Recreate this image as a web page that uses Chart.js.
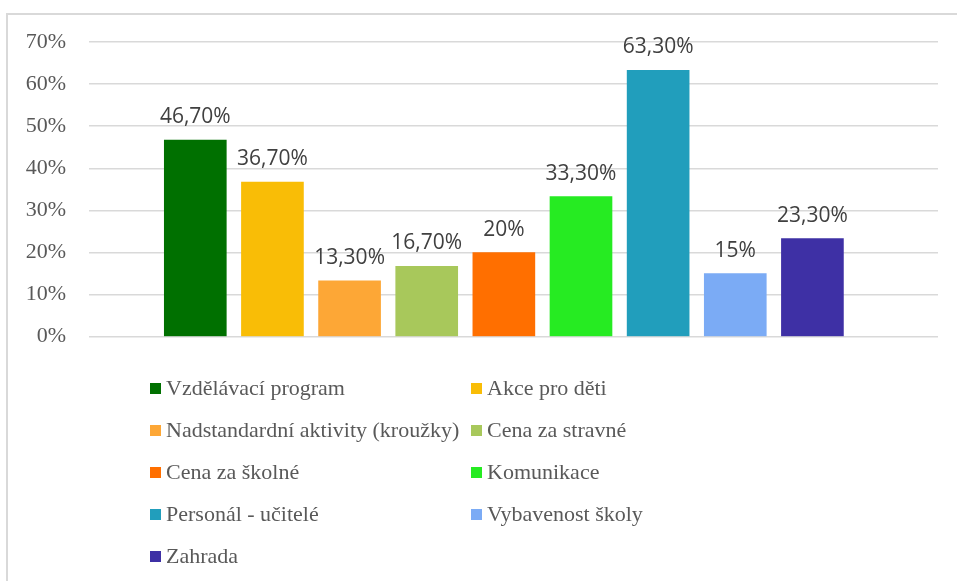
<!DOCTYPE html>
<html>
<head>
<meta charset="utf-8">
<script src="https://cdn.jsdelivr.net/npm/chart.js@4/dist/chart.umd.min.js"></script>
<style>
  html, body { margin: 0; padding: 0; background: #ffffff; }
  body { width: 957px; height: 581px; position: relative; overflow: hidden; }
  #frame { position: absolute; left: 6px; top: 13px; width: 1000px; height: 1000px;
           border-left: 2px solid #d9d9d9; border-top: 2px solid #d9d9d9; box-sizing: border-box; }
  #chart { position: absolute; left: 0; top: 0; }
  #legend { position: absolute; left: 150px; top: 367px; display: grid;
            grid-template-columns: 321px auto; font-family: "Liberation Serif", "Times New Roman", serif;
            font-size: 22px; color: #595959; }
  .item { display: flex; align-items: center; height: 42px; line-height: 42px; white-space: nowrap; }
  .box { width: 11px; height: 11px; margin-right: 5px; flex: none; }
</style>
</head>
<body>
<div id="frame"></div>
<canvas id="chart" width="957" height="581"></canvas>
<div id="legend"></div>
<script>
// ---- data ----
const categories = [
  "Vzdělávací program",
  "Akce pro děti",
  "Nadstandardní aktivity (kroužky)",
  "Cena za stravné",
  "Cena za školné",
  "Komunikace",
  "Personál - učitelé",
  "Vybavenost školy",
  "Zahrada"
];
const values = [46.7, 36.7, 13.3, 16.7, 20, 33.3, 63.3, 15, 23.3];
const colors = ["#007000", "#F9BD06", "#FDA736", "#A8C85B", "#FF6F00", "#26EB22", "#219EBC", "#7BABF5", "#3E30A5"];
const yTicks = [0, 10, 20, 30, 40, 50, 60, 70];

function fmt(v) {
  return Number.isInteger(v) ? v + "%" : v.toFixed(2).replace(".", ",") + "%";
}

const dataLabels = {
  id: "dataLabels",
  afterDatasetsDraw(chart) {
    const ctx = chart.ctx;
    const meta = chart.getDatasetMeta(0);
    ctx.save();
    ctx.font = '21px "Open Sans", sans-serif';
    ctx.fillStyle = "#404040";
    ctx.textAlign = "center";
    ctx.textBaseline = "alphabetic";
    meta.data.forEach((el, i) => {
      ctx.fillText(fmt(values[i]), el.x, el.y - 17);
    });
    ctx.restore();
  }
};

new Chart(document.getElementById("chart"), {
  type: "bar",
  data: {
    datasets: [{
      label: "Hodnocení",
      data: values.map((v, i) => ({ x: i, y: v })),
      backgroundColor: colors,
      borderWidth: 0,
      barThickness: 62
    }]
  },
  options: {
    responsive: false,
    animation: false,
    devicePixelRatio: 1,
    layout: { padding: { top: 42, right: 19, bottom: 244.3, left: 0 } },
    plugins: { legend: { display: false }, tooltip: { enabled: false } },
    scales: {
      x: {
        type: "linear",
        min: -1.378,
        max: 9.628,
        offset: false,
        bounds: "data",
        display: false,
        grid: { display: false, offset: false }
      },
      y: {
        min: yTicks[0],
        max: yTicks[yTicks.length - 1],
        afterBuildTicks: (s) => { s.ticks = yTicks.map(v => ({ value: v })); },
        afterFit: (s) => { s.width = 89; },
        border: { display: false },
        grid: { color: "#d9d9d9", lineWidth: 1.5, drawTicks: false },
        ticks: {
          padding: 23,
          color: "#595959",
          font: { family: '"Liberation Serif", "Times New Roman", serif', size: 22 },
          callback: (v) => v + "%"
        }
      }
    }
  },
  plugins: [dataLabels]
});

// HTML legend built from the data arrays
const legend = document.getElementById("legend");
categories.forEach((name, i) => {
  const item = document.createElement("div");
  item.className = "item";
  const box = document.createElement("span");
  box.className = "box";
  box.style.background = colors[i];
  const txt = document.createElement("span");
  txt.textContent = name;
  item.appendChild(box);
  item.appendChild(txt);
  legend.appendChild(item);
});
</script>
</body>
</html>
